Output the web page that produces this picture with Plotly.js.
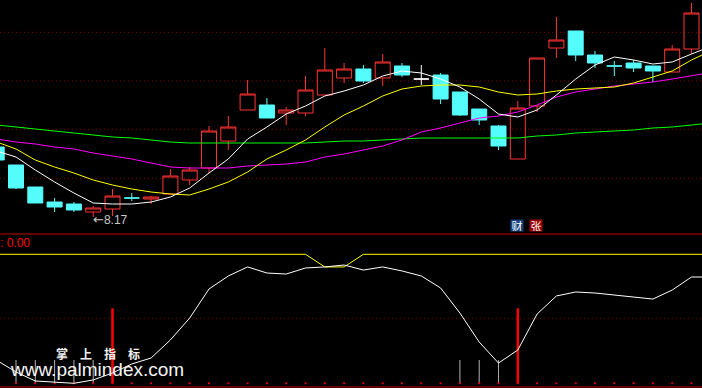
<!DOCTYPE html>
<html><head><meta charset="utf-8">
<script src="https://cdn.plot.ly/plotly-3.0.1.min.js"></script>
<style>html,body{margin:0;padding:0;background:#000;}#chart{width:702px;height:388px;}</style>
</head><body><div id="chart"></div>
<script>
// ---- data ----
// candle days visible on screen
const days = [0,1,2,3,4,5,6,7,8,9,10,11,12,13,14,15,16,17,18,19,20,21,22,23,24,25,26,27,28,29,30,31,32,33,34,35,36];
// line days (the lines run on past the right edge, into one more day)
const lineDays = [0,1,2,3,4,5,6,7,8,9,10,11,12,13,14,15,16,17,18,19,20,21,22,23,24,25,26,27,28,29,30,31,32,33,34,35,36,37];
const openP  = [9.57,9.21,8.77,8.47,8.43,8.27,8.33,8.55,8.53,8.63,8.91,9.15,9.69,10.31,10.41,10.25,10.25,10.61,10.95,11.13,10.95,11.19,10.93,11.01,10.67,10.33,9.99,9.33,10.39,11.55,11.89,11.41,11.19,11.25,11.19,11.07,11.53];
const highP  = [9.61,9.21,8.77,8.55,8.47,8.39,8.73,8.65,8.59,9.13,9.17,9.99,10.19,10.91,10.55,10.37,10.99,11.55,11.25,11.21,11.43,11.25,11.21,11.05,10.67,10.33,10.01,10.49,11.35,12.17,11.89,11.49,11.29,11.31,11.19,11.61,12.45];
const lowP   = [9.27,8.73,8.45,8.27,8.27,8.17,8.19,8.49,8.43,8.63,8.81,9.05,9.51,10.31,10.15,10.01,10.19,10.61,10.85,10.85,10.79,10.97,10.81,10.43,10.19,10.01,9.51,9.33,10.27,11.35,11.29,11.15,10.99,11.07,10.87,11.07,11.43];
const closeP = [9.31,8.75,8.45,8.37,8.31,8.35,8.59,8.55,8.57,8.99,9.11,9.89,9.97,10.63,10.15,10.31,10.71,11.11,11.13,10.89,11.27,11.01,10.93,10.53,10.21,10.11,9.59,10.35,11.35,11.71,11.41,11.25,11.19,11.15,11.09,11.53,12.25];
// u = rising (red hollow), d = falling (cyan), w = white doji
const kind = ['d','d','d','d','d','u','u','d','u','u','u','u','u','u','d','u','u','u','u','d','u','d','w','d','d','d','d','u','u','u','d','d','d','d','d','u','u'];
const ma5  = [9.49,9.37,9.11,8.87,8.65,8.45,8.43,8.43,8.47,8.57,8.75,9.05,9.33,9.73,9.97,10.23,10.39,10.59,10.69,10.81,10.99,11.09,11.05,10.93,10.77,10.53,10.23,10.17,10.31,10.61,10.93,11.21,11.37,11.31,11.23,11.27,11.43,11.58];
const ma10 = [9.67,9.53,9.31,9.17,9.05,8.91,8.81,8.73,8.67,8.63,8.61,8.73,8.87,9.07,9.33,9.51,9.71,9.97,10.21,10.39,10.59,10.73,10.79,10.81,10.81,10.77,10.67,10.61,10.63,10.69,10.73,10.75,10.77,10.85,10.97,11.09,11.31,11.49];
const ma20 = [9.73,9.67,9.63,9.57,9.53,9.45,9.39,9.33,9.25,9.17,9.15,9.15,9.15,9.19,9.21,9.23,9.27,9.37,9.43,9.51,9.59,9.71,9.87,9.95,10.05,10.15,10.19,10.27,10.41,10.57,10.67,10.73,10.79,10.83,10.87,10.93,10.99,11.06];
const ma60 = [10.01,9.97,9.93,9.89,9.85,9.81,9.77,9.75,9.71,9.67,9.65,9.65,9.65,9.65,9.65,9.65,9.65,9.67,9.69,9.69,9.71,9.73,9.75,9.75,9.75,9.75,9.75,9.75,9.79,9.81,9.85,9.87,9.89,9.91,9.95,9.97,10.01,10.05];
const lowestLabel = '8.17';
const lowestDay = 5;
// lower indicator panel
const osc = [17.8,8.8,1.8,1.0,0,2.6,8.0,15.0,19.6,33.6,50.6,73.1,83.2,90.2,85.5,84.7,89.4,90.2,91.7,87.8,90.2,87.1,83.2,73.9,54.5,32.0,15.7,25.8,53.7,67.7,70.8,70.0,68.4,66.9,65.3,72.3,82.4,82.4];
const oscSig = [100,100,100,100,100,100,100,100,100,100,100,100,100,100,100,100,100,90.2,90.2,100,100,100,100,100,100,100,100,100,100,100,100,100,100,100,100,100,100,100];
const zeroLine = [0,0,0,0,0,0,0,0,0,0,0,0,0,0,0,0,0,0,0,0,0,0,0,0,0,0,0,0,0,0,0,0,0,0,0,0,0];
const redSigDays = [6, 27];
const redSigVals = [58.1, 58.1];
const graySigDays = [1,2,3,4,5,24,25,26];
const graySigVals = [18.1,18.1,18.1,18.1,18.1,18.1,18.1,18.1];
const valueLabel = ': 0.00';

// ---- styling ----
const RED = '#FF3333', CYAN = '#54FCFC', WHITE = '#FFFFFF';
function candleTrace(k, col, fill) {
  const ii = days.filter(i => kind[i] === k);
  return {
    type: 'candlestick', xaxis: 'x', yaxis: 'y',
    x: ii.map(i => days[i]), open: ii.map(i => openP[i]), high: ii.map(i => highP[i]),
    low: ii.map(i => lowP[i]), close: ii.map(i => closeP[i]),
    increasing: {line: {color: col, width: 1}, fillcolor: fill},
    decreasing: {line: {color: col, width: 1}, fillcolor: fill},
    whiskerwidth: 0, hoverinfo: 'skip', showlegend: false
  };
}
function maTrace(v, col) {
  return {type: 'scatter', mode: 'lines', x: lineDays, y: v, xaxis: 'x', yaxis: 'y',
          line: {color: col, width: 1}, hoverinfo: 'skip', showlegend: false};
}
const traces = [
  candleTrace('u', RED, 'rgba(0,0,0,0)'),
  candleTrace('d', CYAN, CYAN),
  candleTrace('w', WHITE, WHITE),
  maTrace(ma60, '#00FF00'),
  maTrace(ma20, '#FF00FF'),
  maTrace(ma10, '#FFFF00'),
  maTrace(ma5, '#FFFFFF'),
  {type: 'bar', x: graySigDays, y: graySigVals, xaxis: 'x', yaxis: 'y2', width: 0.055,
   marker: {color: '#A8A8A8', line: {width: 0}}, hoverinfo: 'skip', showlegend: false},
  {type: 'bar', x: redSigDays, y: redSigVals, xaxis: 'x', yaxis: 'y2', width: 0.13,
   marker: {color: '#FF0000', line: {width: 0}}, hoverinfo: 'skip', showlegend: false},
  {type: 'scatter', mode: 'markers', x: days, y: zeroLine, xaxis: 'x', yaxis: 'y2',
   marker: {color: '#E00000', size: 2, symbol: 'square', line: {width: 0}}, hoverinfo: 'skip', showlegend: false},
  {type: 'scatter', mode: 'lines', x: lineDays, y: oscSig, xaxis: 'x', yaxis: 'y2',
   line: {color: '#FFFF00', width: 1}, hoverinfo: 'skip', showlegend: false},
  {type: 'scatter', mode: 'lines', x: lineDays, y: osc, xaxis: 'x', yaxis: 'y2',
   line: {color: '#FFFFFF', width: 1}, hoverinfo: 'skip', showlegend: false}
];

const H = 388;
const py = p => 1 - p / H; // pixel row -> paper
const gridCol = '#8A0000';
const shapes = [];
[32.3, 81, 129.3, 178.3, 318.3].forEach(r => shapes.push({
  type: 'line', xref: 'paper', yref: 'paper', x0: 0, x1: 1, y0: py(r), y1: py(r),
  line: {color: gridCol, width: 1, dash: '1px,3px'}, layer: 'below'}));
[234, 387].forEach(r => shapes.push({
  type: 'line', xref: 'paper', yref: 'paper', x0: 0, x1: 1, y0: py(r), y1: py(r),
  line: {color: '#C80000', width: 1}}));

const annotations = [
  {xref: 'x', yref: 'y', x: days[lowestDay], y: lowP[lowestDay],
   text: '<span style="font-family:DejaVu Sans;font-size:13px">←</span>' + lowestLabel,
   xanchor: 'left', yanchor: 'middle', showarrow: false, xshift: -2, yshift: -2,
   font: {family: 'Liberation Sans, Arial, sans-serif', size: 12, color: '#C8C8C8'}},
  {xref: 'paper', yref: 'paper', x: 516.5/702, y: py(225.5), text: '财', showarrow: false,
   xanchor: 'center', yanchor: 'middle', bgcolor: '#15417A', borderpad: 0, width: 12, height: 11,
   font: {family: 'Noto Sans CJK SC', size: 11, color: '#FFFFFF'}},
  {xref: 'paper', yref: 'paper', x: 535.5/702, y: py(225.5), text: '张', showarrow: false,
   xanchor: 'center', yanchor: 'middle', bgcolor: '#990000', borderpad: 0, width: 12, height: 11,
   font: {family: 'Noto Sans CJK SC', size: 11, color: '#FFFFFF'}},
  {xref: 'paper', yref: 'paper', x: 0, y: py(242.5), text: valueLabel, showarrow: false,
   xanchor: 'left', yanchor: 'middle', xshift: -2,
   font: {family: 'Liberation Sans, Arial, sans-serif', size: 12, color: '#FF0000'}},
  {xref: 'paper', yref: 'paper', x: 97.5/702, y: py(353.5), text: '<b>掌　上　指　标</b>', showarrow: false,
   xanchor: 'center', yanchor: 'middle', borderpad: 0,
   font: {family: 'Noto Sans CJK SC', size: 12, color: '#F0F0F0'}},
  {xref: 'paper', yref: 'paper', x: 10/702, y: py(369), text: 'www.palmindex.com', showarrow: false,
   xanchor: 'left', yanchor: 'middle', xshift: -1, borderpad: 0,
   font: {family: 'Liberation Sans, Arial, sans-serif', size: 19, color: '#F4F4F4'}}
];

const layout = {
  width: 702, height: 388,
  margin: {l: 0, r: 0, t: 0, b: 0, pad: 0},
  paper_bgcolor: '#000000', plot_bgcolor: '#000000',
  showlegend: false, hovermode: false,
  barmode: 'overlay', boxmode: 'overlay', boxgap: 0.223, boxgroupgap: 0,
  xaxis: {range: [0.171, 36.544], visible: false, rangeslider: {visible: false}, fixedrange: true, anchor: 'y2'},
  yaxis: {domain: [py(234), 1], range: [7.83, 12.51], visible: false, fixedrange: true},
  yaxis2: {domain: [py(387), py(234)], range: [-2.87, 115.74], visible: false, fixedrange: true},
  shapes: shapes,
  annotations: annotations
};
Plotly.newPlot('chart', traces, layout, {staticPlot: true, displayModeBar: false});
</script>
</body></html>
